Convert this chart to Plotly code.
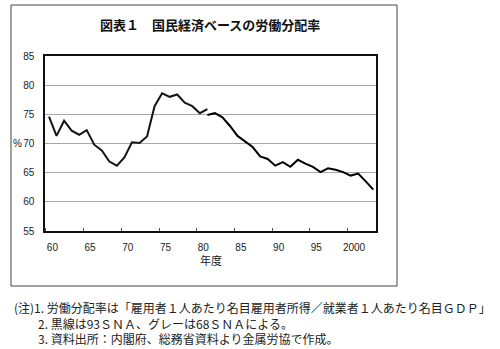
import plotly.graph_objects as go

# Data (fiscal years)
years_68sna = list(range(1960, 1982))
share_68sna = [74.6, 71.3, 73.9, 72.2, 71.5, 72.3, 69.8, 68.8, 66.9, 66.2, 67.6,
               70.2, 70.1, 71.2, 76.4, 78.6, 78.0, 78.4, 77.0, 76.4, 75.2, 75.9]
years_93sna = list(range(1981, 2004))
share_93sna = [74.9, 75.2, 74.5, 73.0, 71.3, 70.35, 69.4, 67.8, 67.35, 66.2, 66.8,
               66.0, 67.2, 66.55, 66.0, 65.1, 65.75, 65.5, 65.1, 64.5, 64.85, 63.5, 62.1]

x_tick_years = [1960, 1965, 1970, 1975, 1980, 1985, 1990, 1995, 2000]
x_tick_labels = ["60", "65", "70", "75", "80", "85", "90", "95", "2000"]
y_ticks = [55, 60, 65, 70, 75, 80, 85]

title_text = "図表１　国民経済ベースの労働分配率"
x_title = "年度"
y_title = "%"
notes = [
    "(注)1. 労働分配率は「雇用者１人あたり名目雇用者所得／就業者１人あたり名目ＧＤＰ」",
    "　　2. 黒線は93ＳＮＡ、グレーは68ＳＮＡによる。",
    "　　3. 資料出所：内閣府、総務省資料より金属労協で作成。",
]

CJK = "Noto Sans CJK JP"
NUM = "Liberation Sans"

fig = go.Figure()
fig.add_trace(go.Scatter(x=years_68sna, y=share_68sna, mode="lines",
                         line=dict(color="#151515", width=2), name="68SNA",
                         showlegend=False))
fig.add_trace(go.Scatter(x=years_93sna, y=share_93sna, mode="lines",
                         line=dict(color="#000000", width=2), name="93SNA",
                         showlegend=False))

W, H = 500, 349
L, R, T, B = 45, 124, 56, 118
pw, ph = W - L - R, H - T - B


def px2paper_x(px):
    return (px - L) / pw


def px2paper_y(py):
    return (H - B - py) / ph


fig.update_layout(
    width=W, height=H,
    margin=dict(l=L, r=R, t=T, b=B),
    paper_bgcolor="white", plot_bgcolor="white",
    font=dict(family=NUM, size=10, color="#222"),
    xaxis=dict(range=[1959.47, 2003.36], showgrid=False, zeroline=False,
               tickvals=[v + 0.45 for v in x_tick_years], ticktext=x_tick_labels,
               tickfont=dict(family=NUM, size=10, color="#222"),
               showline=True, linecolor="#111", linewidth=1.5, mirror=True,
               ticks="", ticklabelstandoff=6,
               minor=dict(ticks="inside", ticklen=3, tickcolor="#555",
                          tick0=1959.6, dtick=5, showgrid=False)),
    yaxis=dict(range=[55, 85], tickvals=y_ticks, showgrid=True,
               gridcolor="#a8a8a8", gridwidth=1, zeroline=False,
               tickfont=dict(family=NUM, size=10, color="#222"),
               showline=True, linecolor="#111", linewidth=1.5, mirror=True,
               ticks="", ticklabelstandoff=7),
)

# outer frame
fig.add_shape(type="rect", xref="paper", yref="paper",
              x0=px2paper_x(11), x1=px2paper_x(397),
              y0=px2paper_y(286), y1=px2paper_y(5),
              line=dict(color="#444", width=1), layer="below")

fig.add_annotation(text="<b>" + title_text + "</b>", xref="paper", yref="paper",
                   x=px2paper_x(210), y=px2paper_y(24), showarrow=False,
                   font=dict(family=CJK, size=13, color="#111"),
                   xanchor="center", yanchor="middle")
fig.add_annotation(text=x_title, xref="paper", yref="paper",
                   x=px2paper_x(211), y=px2paper_y(260), showarrow=False,
                   font=dict(family=CJK, size=11, color="#222"),
                   xanchor="center", yanchor="middle")
fig.add_annotation(text=y_title, xref="paper", yref="y",
                   x=px2paper_x(17), y=70, showarrow=False,
                   font=dict(family=NUM, size=10, color="#222"),
                   xanchor="center", yanchor="middle")

fig.add_annotation(text="<br>".join(notes), xref="paper", yref="paper",
                   x=px2paper_x(12), y=px2paper_y(323), showarrow=False,
                   align="left", xanchor="left", yanchor="middle",
                   font=dict(family=CJK, size=12, color="#222"))

fig.write_html("out.html")
